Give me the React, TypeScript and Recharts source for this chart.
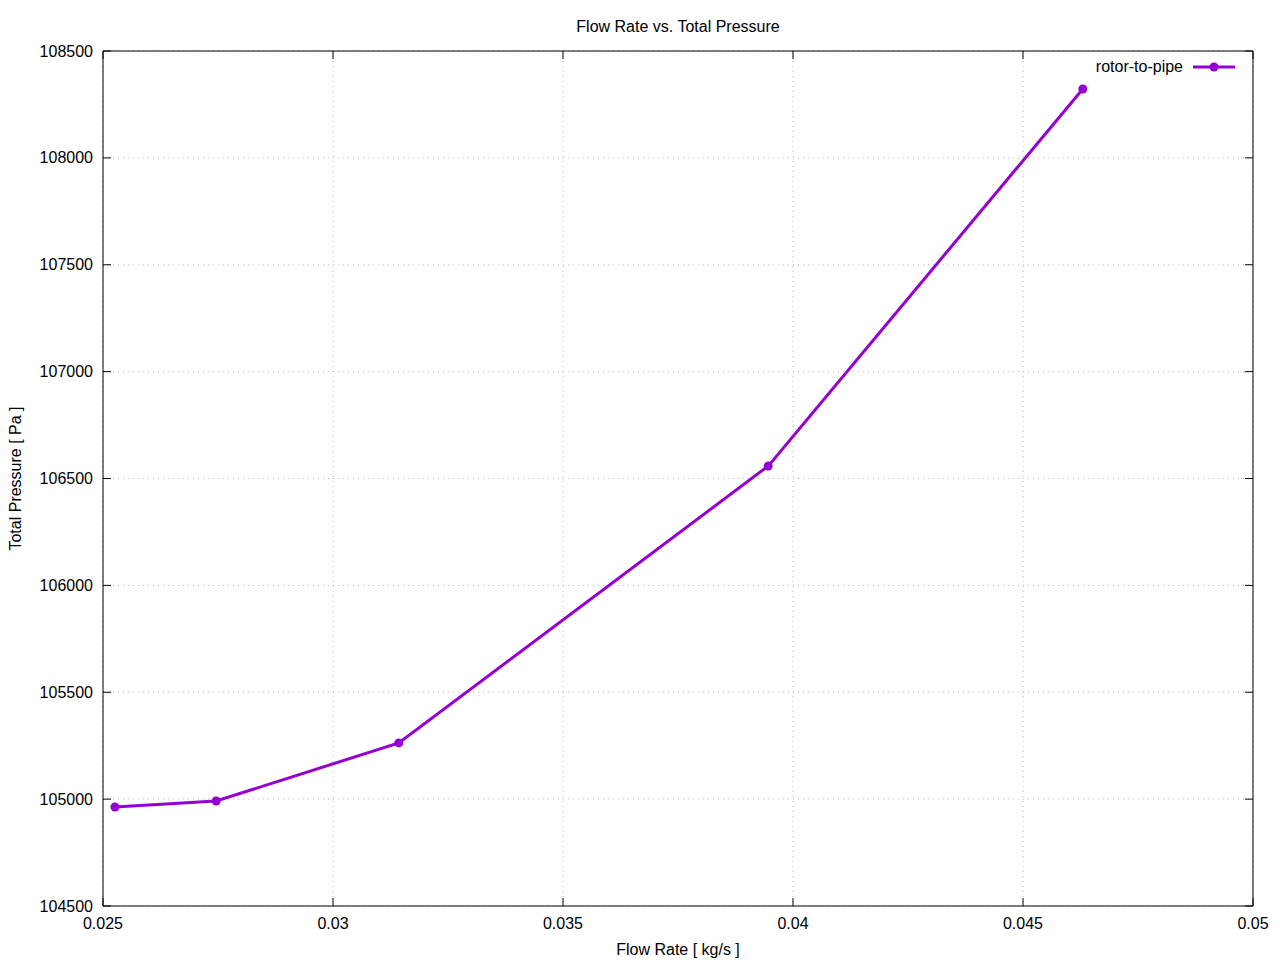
import React from 'react';
import {
  LineChart,
  Line,
  XAxis,
  YAxis,
  CartesianGrid,
  Legend,
  Label,
} from 'recharts';

const flowRate = [0.02526, 0.02746, 0.03143, 0.03946, 0.0463];
const totalPressure = [104963, 104991, 105263, 106558, 108322];
const xTicks = [0.025, 0.03, 0.035, 0.04, 0.045, 0.05];
const yTicks = [104500, 105000, 105500, 106000, 106500, 107000, 107500, 108000, 108500];

const SERIES_NAME = 'rotor-to-pipe';
const COLOR = '#9400d3';
const FONT = '"Liberation Sans", Arial, sans-serif';
const FS = 16;
const TICK_LEN = 8;

const data = flowRate.map((x, i) => ({ x, p: totalPressure[i] }));

const BottomTick = ({ x, y, payload }: any) => (
  <g>
    <line x1={x} x2={x} y1={y} y2={y - TICK_LEN} stroke="#000" />
    <text x={x} y={y + 17} textAnchor="middle" dominantBaseline="central" fontSize={FS} fontFamily={FONT} fill="#000">
      {String(payload.value)}
    </text>
  </g>
);

const TopTick = ({ x, y }: any) => (
  <line x1={x} x2={x} y1={y} y2={y + TICK_LEN} stroke="#000" />
);

const LeftTick = ({ x, y, payload }: any) => (
  <g>
    <line x1={x} x2={x + TICK_LEN} y1={y} y2={y} stroke="#000" />
    <text x={x - 10} y={y} textAnchor="end" dominantBaseline="central" fontSize={FS} fontFamily={FONT} fill="#000">
      {String(payload.value)}
    </text>
  </g>
);

const RightTick = ({ x, y }: any) => (
  <line x1={x} x2={x - TICK_LEN} y1={y} y2={y} stroke="#000" />
);

const LegendBox = () => (
  <div style={{ display: 'flex', alignItems: 'center', justifyContent: 'flex-end', fontFamily: FONT, fontSize: FS, height: 20 }}>
    <span style={{ marginRight: 10 }}>{SERIES_NAME}</span>
    <svg width={47} height={20}>
      <line x1={0} x2={42} y1={10} y2={10} stroke={COLOR} strokeWidth={3} />
      <circle cx={21} cy={10} r={4.5} fill={COLOR} />
    </svg>
  </div>
);

export default function App() {
  return (
    <div style={{ position: 'absolute', left: 0, top: 0, width: 1280, height: 960, background: '#fff' }}>
      <LineChart width={1280} height={960} data={data} margin={{ top: 50, right: 26, bottom: 0, left: 0 }}>
        <CartesianGrid stroke="#b8b8b8" strokeDasharray="1 4" />
        <XAxis
          dataKey="x"
          type="number"
          domain={[0.025, 0.05]}
          ticks={xTicks}
          allowDataOverflow
          height={54}
          stroke="#000"
          tickLine={false}
          tickSize={0}
          tickMargin={0}
          tick={<BottomTick />}
          interval={0}
        >
          <Label
            content={({ viewBox }: any) => (
              <text x={viewBox.x + viewBox.width / 2} y={viewBox.y + 43} textAnchor="middle" dominantBaseline="central" fontSize={FS} fontFamily={FONT} fill="#000">
                Flow Rate [ kg/s ]
              </text>
            )}
          />
        </XAxis>
        <XAxis
          xAxisId="top"
          orientation="top"
          dataKey="x"
          type="number"
          domain={[0.025, 0.05]}
          ticks={xTicks}
          allowDataOverflow
          height={1}
          stroke="#000"
          tickLine={false}
          tickSize={0}
          tickMargin={0}
          tick={<TopTick />}
          interval={0}
        >
          <Label
            content={({ viewBox }: any) => (
              <text x={viewBox.x + viewBox.width / 2} y={viewBox.y - 24} textAnchor="middle" dominantBaseline="central" fontSize={FS} fontFamily={FONT} fill="#000">
                Flow Rate vs. Total Pressure
              </text>
            )}
          />
        </XAxis>
        <YAxis
          type="number"
          domain={[104500, 108500]}
          ticks={yTicks}
          allowDataOverflow
          width={103}
          stroke="#000"
          tickLine={false}
          tickSize={0}
          tickMargin={0}
          tick={<LeftTick />}
          interval={0}
        >
          <Label
            content={({ viewBox }: any) => {
              const cx = 15;
              const cy = viewBox.y + viewBox.height / 2;
              return (
                <text x={cx} y={cy} transform={`rotate(-90 ${cx} ${cy})`} textAnchor="middle" dominantBaseline="central" fontSize={FS} fontFamily={FONT} fill="#000">
                  Total Pressure [ Pa ]
                </text>
              );
            }}
          />
        </YAxis>
        <YAxis
          yAxisId="right"
          orientation="right"
          type="number"
          domain={[104500, 108500]}
          ticks={yTicks}
          allowDataOverflow
          width={1}
          stroke="#000"
          tickLine={false}
          tickSize={0}
          tickMargin={0}
          tick={<RightTick />}
          interval={0}
        />
        <Legend
          layout="vertical"
          align="center"
          verticalAlign="middle"
          content={<LegendBox />}
          wrapperStyle={{ position: 'absolute', top: 57, left: 1040, width: 200 }}
        />
        <Line
          type="linear"
          dataKey="p"
          name={SERIES_NAME}
          stroke={COLOR}
          strokeWidth={3}
          dot={{ r: 4.5, fill: COLOR, stroke: COLOR, strokeWidth: 0 }}
          activeDot={false}
          isAnimationActive={false}
        />
      </LineChart>
    </div>
  );
}
